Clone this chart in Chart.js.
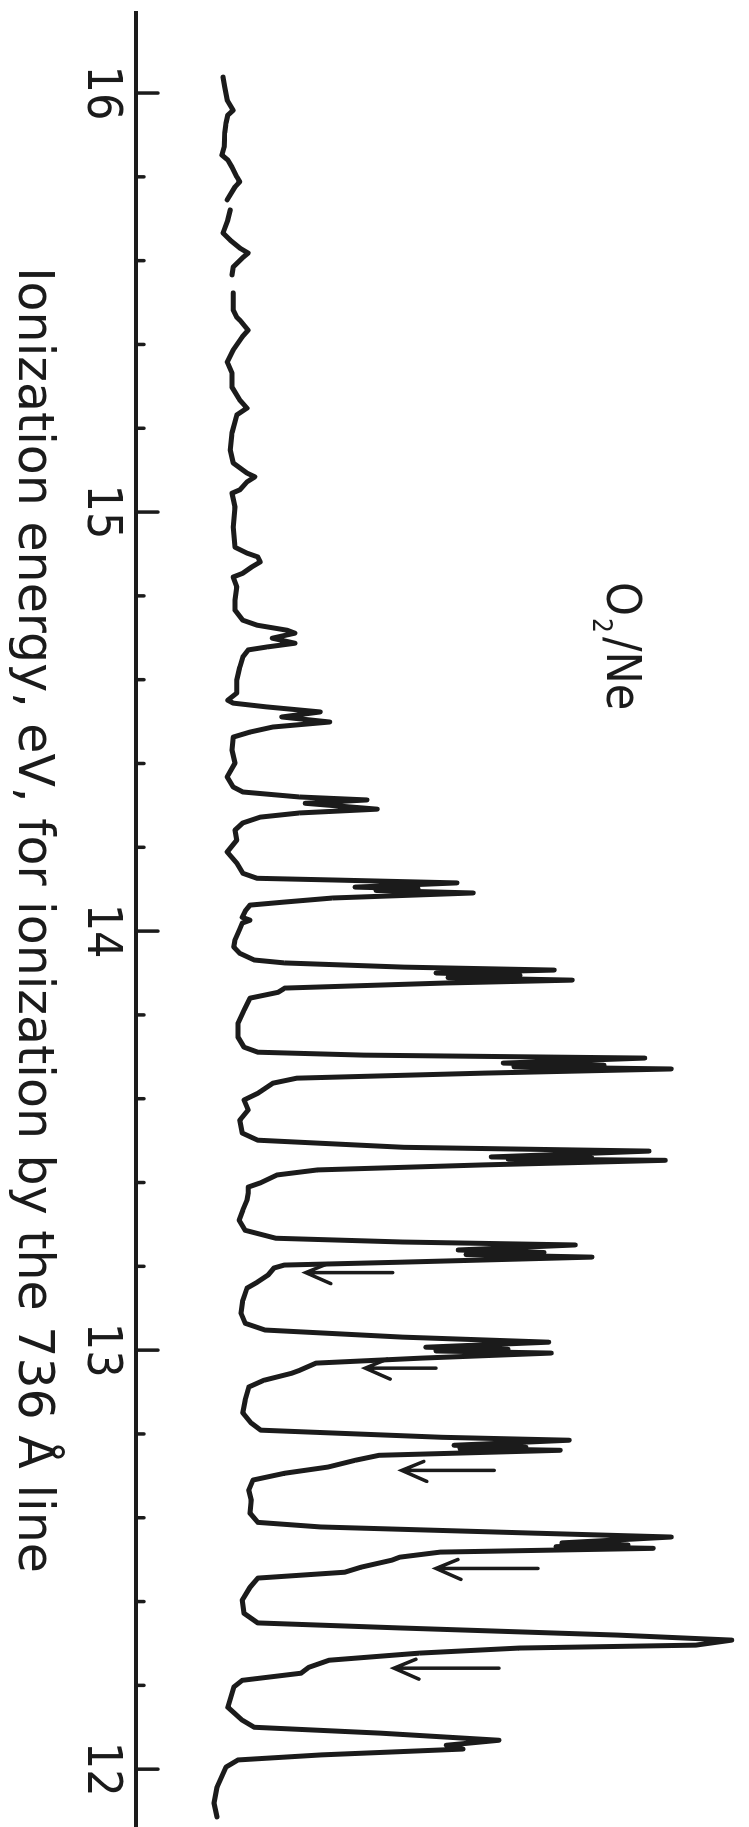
<!DOCTYPE html>
<html>
<head>
<meta charset="utf-8">
<script src="https://cdn.jsdelivr.net/npm/chart.js@4.4.0/dist/chart.umd.min.js"></script>
<style>
  html, body { margin: 0; padding: 0; background: #fff; overflow: hidden; }
  /* the figure is printed sideways: build it landscape, then turn it a quarter clockwise */
  #wrap { position: absolute; left: 0; top: 0; width: 1827px; height: 749px;
          transform-origin: 0 0; transform: translateX(749px) rotate(90deg); }
</style>
</head>
<body>
<div id="wrap"><canvas id="spectrum" width="1827" height="749"></canvas></div>
<script>
// ionization energy (eV) and detector signal (arb. units)
const energies = [
  16.038, 16.014, 15.983, 15.959, 15.947, 15.928, 15.905, 15.871, 15.852, 15.840,
  15.823, 15.800, 15.788, 15.776, 15.745, 15.733, 15.721, 15.697, 15.666, 15.649,
  15.630, 15.618, 15.606, 15.585, 15.566, 15.545, 15.523, 15.482, 15.465, 15.458,
  15.434, 15.418, 15.387, 15.358, 15.332, 15.298, 15.267, 15.248, 15.232, 15.189,
  15.148, 15.117, 15.093, 15.084, 15.072, 15.053, 15.045, 15.012, 14.964, 14.916,
  14.902, 14.893, 14.881, 14.869, 14.854, 14.845, 14.821, 14.790, 14.766, 14.742,
  14.730, 14.718, 14.711, 14.699, 14.687, 14.678, 14.671, 14.654, 14.630, 14.599,
  14.568, 14.551, 14.544, 14.535, 14.523, 14.511, 14.499, 14.487, 14.475, 14.463,
  14.432, 14.401, 14.368, 14.344, 14.332, 14.320, 14.313, 14.305, 14.291, 14.282,
  14.272, 14.258, 14.241, 14.217, 14.189, 14.162, 14.138, 14.126, 14.122, 14.115,
  14.105, 14.101, 14.097, 14.091, 14.079, 14.069, 14.062, 14.050, 14.033, 14.026,
  14.019, 14.002, 13.979, 13.962, 13.947, 13.931, 13.924, 13.914, 13.907, 13.900,
  13.894, 13.889, 13.883, 13.876, 13.864, 13.854, 13.840, 13.811, 13.780, 13.747,
  13.723, 13.711, 13.704, 13.697, 13.685, 13.680, 13.676, 13.671, 13.661, 13.649,
  13.637, 13.613, 13.597, 13.573, 13.549, 13.518, 13.501, 13.484, 13.475, 13.461,
  13.458, 13.456, 13.453, 13.442, 13.430, 13.418, 13.399, 13.389, 13.375, 13.358,
  13.334, 13.310, 13.286, 13.267, 13.258, 13.251, 13.239, 13.233, 13.228, 13.222,
  13.210, 13.203, 13.196, 13.179, 13.162, 13.148, 13.119, 13.088, 13.064, 13.048,
  13.031, 13.019, 13.007, 13.002, 12.998, 12.993, 12.981, 12.969, 12.952, 12.945,
  12.928, 12.912, 12.881, 12.850, 12.826, 12.809, 12.792, 12.785, 12.773, 12.768,
  12.765, 12.761, 12.749, 12.737, 12.721, 12.706, 12.690, 12.666, 12.642, 12.611,
  12.589, 12.578, 12.563, 12.554, 12.540, 12.535, 12.531, 12.527, 12.518, 12.506,
  12.499, 12.482, 12.470, 12.456, 12.434, 12.403, 12.372, 12.349, 12.337, 12.320,
  12.308, 12.296, 12.289, 12.277, 12.260, 12.243, 12.229, 12.212, 12.196, 12.148,
  12.117, 12.100, 12.086, 12.069, 12.057, 12.048, 12.034, 12.022, 12.005, 11.957,
  11.919, 11.886
];
const counts = [
  14.5, 14.8, 15.2, 16.2, 15.3, 15.0, 14.8, 14.7, 14.3, 15.3,
  16.0, 16.8, 17.3, 16.5, 15.2, null, 15.7, 15.3, 14.5, 15.7,
  17.3, 18.7, 17.7, 16.2, 16.0, null, 16.2, 16.2, 16.8, 17.3,
  18.7, 17.7, 16.2, 15.2, 16.0, 16.0, 17.3, 18.5, 16.8, 16.0,
  15.7, 16.2, 18.5, 19.8, 18.5, 17.3, 16.0, 16.5, 16.2, 16.5,
  18.5, 20.3, 20.7, 19.3, 17.8, 16.2, 16.8, 16.5, 16.5, 17.8,
  20.2, 25.2, 26.5, 22.7, 26.5, 21.8, 18.7, 17.8, 17.3, 16.8,
  16.8, 15.3, 16.2, 21.8, 30.7, 24.3, 32.3, 22.8, 19.0, 16.2,
  16.0, 16.5, 15.2, 16.2, 17.8, 27.3, 38.5, 28.2, 40.2, 27.3,
  20.7, 17.8, 16.5, 16.8, 15.2, 16.8, 17.8, 20.2, 32.8, 53.5,
  36.5, 47.0, 40.0, 56.2, 32.8, 24.5, 19.0, 18.3, 17.7, 19.0,
  17.7, 17.2, 16.5, 16.3, 17.3, 19.7, 24.8, 44.7, 69.7, 50.0,
  64.0, 52.0, 72.7, 51.3, 24.8, 23.7, 19.0, 18.0, 17.0, 17.0,
  18.0, 20.3, 38.0, 84.8, 61.2, 78.0, 63.0, 89.2, 57.8, 26.8,
  22.8, 20.3, 18.0, 18.7, 17.3, 17.7, 20.3, 44.7, 85.5, 59.2,
  76.0, 62.0, 88.2, 57.8, 30.2, 23.5, 20.7, 18.7, 18.7, 18.5,
  17.8, 17.2, 18.2, 23.3, 44.5, 73.2, 53.7, 68.0, 55.0, 76.0,
  44.5, 24.7, 23.0, 22.0, 20.2, 18.5, 17.8, 17.5, 18.2, 21.5,
  44.5, 68.8, 48.3, 62.0, 50.0, 69.2, 47.7, 30.0, 27.3, 26.0,
  21.3, 18.8, 18.2, 17.8, 19.2, 20.8, 51.0, 72.2, 53.0, 65.0,
  54.0, 70.7, 40.5, 36.5, 32.0, 24.7, 19.5, 18.8, 19.2, 19.0,
  20.3, 30.8, 67.0, 89.2, 71.0, 82.0, 70.0, 86.2, 50.7, 44.0,
  42.7, 37.5, 34.8, 20.3, 19.0, 17.7, 18.0, 20.3, 44.0, 80.2,
  99.3, 93.3, 63.8, 47.3, 32.2, 28.8, 27.5, 17.7, 16.3, 15.3,
  17.7, 19.7, 40.7, 60.5, 51.7, 54.5, 30.8, 17.0, 15.0, 13.5,
  13.0, 13.5
];

const majorTicks = [12, 13, 14, 15, 16];
const minorTicks = [12.2, 12.4, 12.6, 12.8, 13.2, 13.4, 13.6, 13.8,
                    14.2, 14.4, 14.6, 14.8, 15.2, 15.4, 15.6, 15.8];

// marked shoulders: energy, arrow tip and tail (signal units)
const arrowEnergies = [13.185, 12.957, 12.713, 12.479, 12.241];
const arrowTips = [28.3, 38.2, 44.3, 50.0, 43.0];
const arrowTails = [42.8, 50.0, 59.7, 67.0, 60.5];

const axisTitle = 'Ionization energy, eV, for ionization by the 736 Å line';

const ink = '#1b1b1b';
const narrow = "'Liberation Sans Narrow', 'DejaVu Sans Condensed', 'DejaVu Sans', sans-serif";

const extras = {
  id: 'extras',
  afterDatasetsDraw(chart) {
    const { ctx, chartArea, scales: { x, y } } = chart;
    ctx.save();
    ctx.strokeStyle = ink;
    ctx.fillStyle = ink;
    ctx.lineCap = 'round';

    // ticks point inwards from the axis
    ctx.lineWidth = 3.5;
    majorTicks.concat(minorTicks).forEach(v => {
      const px = x.getPixelForValue(v);
      const len = majorTicks.includes(v) ? 22 : 8;
      ctx.beginPath();
      ctx.moveTo(px, chartArea.bottom);
      ctx.lineTo(px, chartArea.bottom - len);
      ctx.stroke();
    });

    // arrows
    ctx.lineWidth = 3.5;
    arrowEnergies.forEach((e, i) => {
      const px = x.getPixelForValue(e);
      const tip = y.getPixelForValue(arrowTips[i]);
      const tail = y.getPixelForValue(arrowTails[i]);
      ctx.beginPath();
      ctx.moveTo(px, tail);
      ctx.lineTo(px, tip);
      ctx.moveTo(px - 9, tip - 22);
      ctx.lineTo(px, tip);
      ctx.lineTo(px + 11, tip - 25);
      ctx.stroke();
    });

    // sample label
    let lx = x.getPixelForValue(14.833);
    const ly = y.getPixelForValue(78.5);
    ctx.textBaseline = 'alphabetic';
    ctx.textAlign = 'left';
    ctx.font = '48px ' + narrow;
    ctx.fillText('O', lx, ly);
    lx += ctx.measureText('O').width + 2;
    ctx.font = '26px ' + narrow;
    ctx.fillText('2', lx, ly + 14);
    lx += ctx.measureText('2').width + 4;
    ctx.font = '48px ' + narrow;
    ctx.fillText('/Ne', lx, ly);
    ctx.restore();
  }
};

Chart.defaults.color = ink;

new Chart(document.getElementById('spectrum'), {
  type: 'line',
  data: {
    datasets: [{
      data: energies.map((e, i) => ({ x: e, y: counts[i] })),
      borderColor: ink,
      borderWidth: 5,
      borderJoinStyle: 'round',
      borderCapStyle: 'round',
      pointRadius: 0,
      tension: 0,
      fill: false,
      spanGaps: false
    }]
  },
  options: {
    responsive: false,
    animation: false,
    layout: { padding: { left: 13, right: 0, top: 0, bottom: 0 } },
    plugins: {
      legend: { display: false },
      tooltip: { enabled: false }
    },
    scales: {
      x: {
        type: 'linear',
        reverse: true,
        min: 11.862,
        max: 16.191,
        afterBuildTicks: s => {
          s.ticks = majorTicks.concat(minorTicks).sort((a, b) => a - b).map(v => ({ value: v }));
        },
        afterFit: s => { s.height = 136; },
        grid: { display: true, drawOnChartArea: false, drawTicks: false },
        border: { display: true, color: ink, width: 4 },
        ticks: {
          autoSkip: false,
          maxRotation: 0,
          padding: 12,
          font: { family: narrow, size: 48, lineHeight: 1 },
          callback: v => majorTicks.includes(v) ? String(v) : ''
        },
        title: {
          display: true,
          text: axisTitle,
          font: { family: "'DejaVu Sans', sans-serif", size: 49, lineHeight: 1 },
          padding: { top: 0, bottom: 7 }
        }
      },
      y: {
        display: false,
        min: 0,
        max: 102.17
      }
    }
  },
  plugins: [extras]
});
</script>
</body>
</html>
